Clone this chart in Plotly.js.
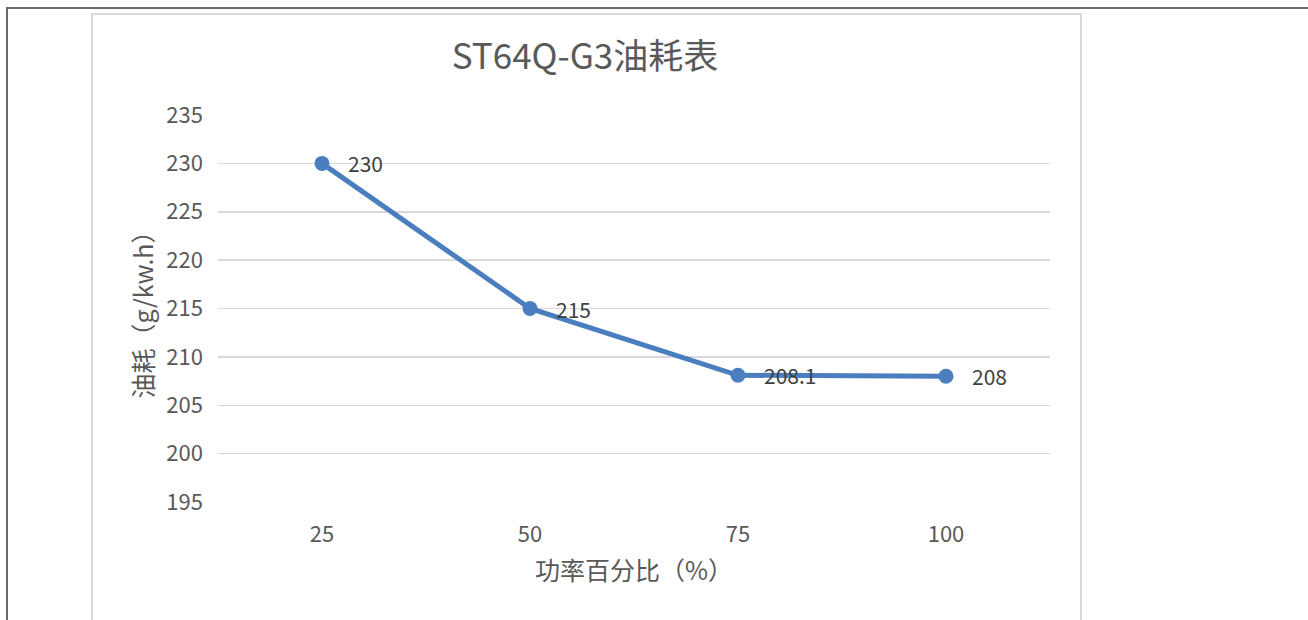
<!DOCTYPE html>
<html>
<head>
<meta charset="utf-8">
<script src="https://cdn.plot.ly/plotly-3.0.1.min.js"></script>
<style>
  html, body { margin: 0; padding: 0; background: #fff; }
  #wrap { position: relative; width: 1308px; height: 620px; overflow: hidden; }
  #outer { position: absolute; left: 6px; top: 7px; width: 1400px; height: 700px; border-left: 2px solid #6b6b6b; border-top: 2px solid #6b6b6b; }
  #inner { position: absolute; left: 91px; top: 13px; width: 987px; height: 700px; border: 2px solid #d9d9d9; }
  #chart { position: absolute; left: 0; top: 0; width: 1308px; height: 620px; }
</style>
</head>
<body>
<div id="wrap">
  <div id="outer"></div>
  <div id="inner"></div>
  <div id="chart"></div>
</div>
<script>
const categories = ["25", "50", "75", "100"];
const fuelConsumption = [230, 215, 208.1, 208];
const dataLabels = ["230", "215", "208.1", "208"];
const yTicks = [195, 200, 205, 210, 215, 220, 225, 230, 235];

const font = "'Noto Sans CJK SC', 'Noto Sans', sans-serif";

const trace = {
  x: categories,
  y: fuelConsumption,
  type: "scatter",
  mode: "lines+markers",
  line: { color: "#4a7ebf", width: 5 },
  marker: { color: "#4a7ebf", size: 15 },
  cliponaxis: false,
  hoverinfo: "x+y"
};

// data labels placed through the category axis (index) and y axis scales
const labelAnnotations = categories.map((c, i) => ({
  x: i,
  y: fuelConsumption[i],
  xref: "x",
  yref: "y",
  text: dataLabels[i],
  showarrow: false,
  xanchor: "left",
  yanchor: "middle",
  xshift: 24,
  font: { family: font, size: 21, color: "#404040" }
}));

const layout = {
  width: 1308,
  height: 620,
  paper_bgcolor: "rgba(0,0,0,0)",
  plot_bgcolor: "rgba(0,0,0,0)",
  margin: { l: 218, r: 258, t: 115, b: 118, autoexpand: false },
  showlegend: false,
  font: { family: font, color: "#595959" },
  title: {
    text: "ST64Q-G3油耗表",
    font: { family: font, size: 35, color: "#595959" },
    x: 585 / 1308, xanchor: "center", xref: "container",
    y: 1 - 57 / 620, yanchor: "middle", yref: "container"
  },
  annotations: labelAnnotations,
  xaxis: {
    type: "category",
    range: [-0.5, 3.5],
    showgrid: false,
    zeroline: false,
    showline: false,
    ticks: "",
    ticklabelstandoff: 17,
    tickfont: { family: font, size: 22, color: "#595959" },
    title: { text: "功率百分比（%）", font: { family: font, size: 25, color: "#595959" }, standoff: 15 },
    automargin: false
  },
  yaxis: {
    range: [195, 235],
    tickvals: yTicks,
    ticktext: yTicks.map(String),
    showgrid: true,
    gridcolor: "#d9d9d9",
    gridwidth: 1.5,
    zeroline: false,
    showline: false,
    ticks: "",
    ticklabelstandoff: 14,
    tickfont: { family: font, size: 22, color: "#595959" },
    title: { text: "油耗（g/kw.h）", font: { family: font, size: 25, color: "#595959" }, standoff: 5 },
    automargin: false
  }
};

Plotly.newPlot("chart", [trace], layout, { displayModeBar: false, staticPlot: true });
</script>
</body>
</html>
